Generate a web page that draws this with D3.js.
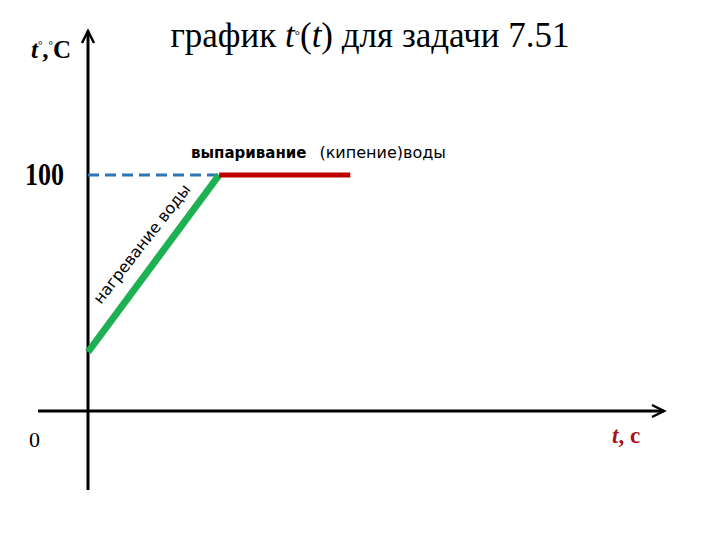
<!DOCTYPE html>
<html><head><meta charset="utf-8">
<script src="https://cdn.jsdelivr.net/npm/d3@7"></script>
<style>body{margin:0;background:#fff}</style>
</head><body>
<svg id="c" width="720" height="540"></svg>
<script>
// data
const heatingTime = [0, 5];
const heatingTemp = [25, 100];
const boilingTime = [5, 10];
const boilingTemp = [100, 100];
const yTickLabels = ["100"];
const yTickValues = [100];

const svg = d3.select("#c");
const x = d3.scaleLinear().domain([0, 22]).range([88, 665]);
const y = d3.scaleLinear().domain([0, 100]).range([411, 175]);

// axes
svg.append("line").attr("x1", x(0)).attr("x2", x(0)).attr("y1", 490).attr("y2", 31)
  .attr("stroke", "#000").attr("stroke-width", 3);
svg.append("path").attr("d", `M${x(0)-6},${43} L${x(0)},${31} L${x(0)+6},${43}`)
  .attr("fill", "none").attr("stroke", "#000").attr("stroke-width", 2.5);
svg.append("line").attr("x1", 38).attr("x2", 664).attr("y1", y(0)).attr("y2", y(0))
  .attr("stroke", "#000").attr("stroke-width", 3);
svg.append("path").attr("d", `M${652},${y(0)-6} L${664},${y(0)} L${652},${y(0)+6}`)
  .attr("fill", "none").attr("stroke", "#000").attr("stroke-width", 2.5);

// dashed guide
svg.append("line").attr("x1", x(0)).attr("x2", x(heatingTime[1])).attr("y1", y(100)).attr("y2", y(100))
  .attr("stroke", "#2e75b6").attr("stroke-width", 3).attr("stroke-dasharray", "11,6");

const line = d3.line().x(d => x(d[0])).y(d => y(d[1]));
svg.append("path").datum(heatingTime.map((t, i) => [t, heatingTemp[i]]))
  .attr("d", line).attr("fill", "none").attr("stroke", "#1db153").attr("stroke-width", 7);
svg.append("path").datum(boilingTime.map((t, i) => [t, boilingTemp[i]]))
  .attr("d", line).attr("fill", "none").attr("stroke", "#c00000").attr("stroke-width", 5);

// title
const title = svg.append("text").attr("x", 370).attr("y", 47).attr("text-anchor", "middle")
  .attr("font-family", "Liberation Serif, Times New Roman, serif").attr("font-size", 35).attr("fill", "#000");
title.append("tspan").text("график ");
title.append("tspan").attr("font-style", "italic").text("t");
title.append("tspan").attr("font-size", 13).attr("dy", -8).text("°");
title.append("tspan").attr("dy", 8).text("(");
title.append("tspan").attr("font-style", "italic").text("t");
title.append("tspan").text(") для задачи 7.51");

// y label
const yl = svg.append("text").attr("x", 31).attr("y", 58)
  .attr("font-family", "Liberation Serif, Times New Roman, serif").attr("font-size", 25)
  .attr("font-weight", "bold").attr("fill", "#000");
yl.append("tspan").attr("font-style", "italic").text("t");
yl.append("tspan").attr("font-size", 11).attr("dy", -9).text("°");
yl.append("tspan").attr("dy", 9).text(",");
yl.append("tspan").attr("font-size", 11).attr("dy", -9).text("°");
yl.append("tspan").attr("dy", 9).text("C");

// y tick labels
svg.selectAll(".yt").data(yTickValues).enter().append("text")
  .attr("transform", (d) => `translate(25,${y(d) + 10}) scale(1,1.2)`)
  .attr("font-family", "Liberation Serif, Times New Roman, serif").attr("font-size", 26)
  .attr("font-weight", "bold").text((d, i) => yTickLabels[i]);

svg.append("text").attr("x", 29).attr("y", 447)
  .attr("font-family", "Liberation Serif, Times New Roman, serif").attr("font-size", 22)
  .text("0");

// x label
const xl = svg.append("text").attr("x", 612).attr("y", 443)
  .attr("font-family", "Liberation Serif, Times New Roman, serif").attr("font-size", 23)
  .attr("font-weight", "bold").attr("fill", "#a5121c");
xl.append("tspan").attr("font-style", "italic").text("t");
xl.append("tspan").text(", с");

// annotations
const ann = svg.append("text").attr("x", 191).attr("y", 158)
  .attr("font-family", "DejaVu Sans, Verdana, sans-serif").attr("font-size", 15).attr("fill", "#000");
ann.append("tspan").attr("font-weight", "bold").text("выпаривание");
ann.append("tspan").attr("dx", 13).attr("font-size", 16).text("(кипение)воды");

svg.append("text").attr("transform", `translate(101,305) rotate(-52)`)
  .attr("font-family", "DejaVu Sans, Verdana, sans-serif").attr("font-size", 16).attr("fill", "#000")
  .text("нагревание воды");
</script>
</body></html>
